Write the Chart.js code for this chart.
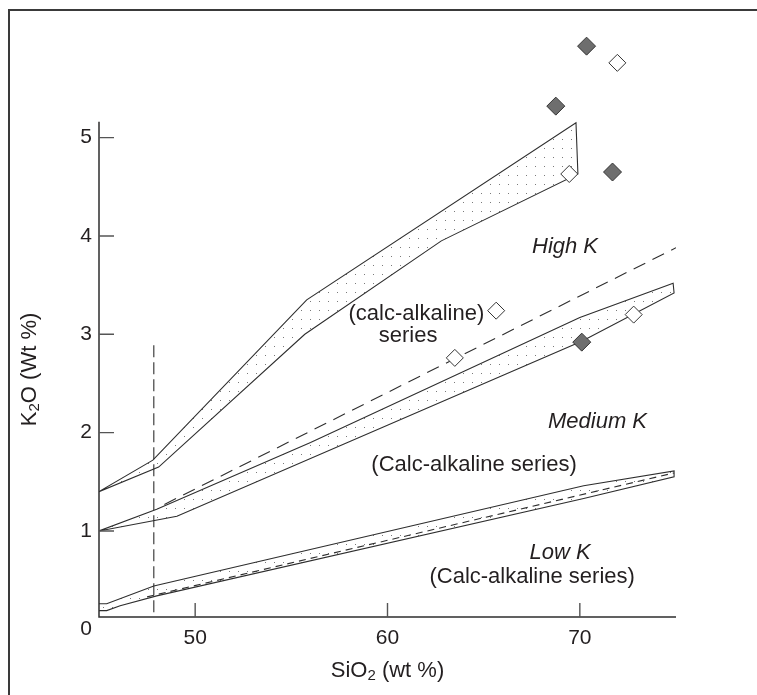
<!DOCTYPE html>
<html>
<head>
<meta charset="utf-8">
<style>
  html, body { margin: 0; padding: 0; background: #fff; }
  #wrap { position: relative; width: 757px; height: 695px; overflow: hidden; }
  #frame { position: absolute; left: 8px; top: 9px; width: 800px; height: 800px;
           border-top: 2px solid #3a3a3a; border-left: 2px solid #3a3a3a; }
  #chart { position: absolute; left: 0; top: 0; }
</style>
<script src="https://cdn.jsdelivr.net/npm/chart.js"></script>
</head>
<body>
<div id="wrap">
  <div id="frame"></div>
  <canvas id="chart" width="757" height="695"></canvas>
</div>
<script>
// Axis ticks
const xTicks = [50, 60, 70];
const yTicks = [0, 1, 2, 3, 4, 5];

// High K boundary band
const highUpperSiO2 = [45, 47.8, 55.8, 69.8];
const highUpperK2O  = [1.40, 1.72, 3.35, 5.15];
const highLowerSiO2 = [45, 48.1, 55.7, 62.8, 69.9];
const highLowerK2O  = [1.40, 1.65, 3.00, 3.95, 4.63];

// Medium K boundary band
const medUpperSiO2 = [45, 48, 56, 70, 74.85];
const medUpperK2O  = [1.0, 1.22, 1.90, 3.17, 3.52];
const medLowerSiO2 = [45, 49.05, 70.1, 74.9];
const medLowerK2O  = [1.0, 1.15, 2.93, 3.42];
const medDashSiO2  = [48.4, 75];
const medDashK2O   = [1.27, 3.88];

// Low K boundary band
const lowUpperSiO2 = [45, 45.4, 47.85, 70.2, 74.9];
const lowUpperK2O  = [0.26, 0.26, 0.44, 1.46, 1.61];
const lowLowerSiO2 = [45, 45.4, 46.1, 48, 70.2, 74.9];
const lowLowerK2O  = [0.19, 0.19, 0.24, 0.34, 1.33, 1.55];
const lowDashSiO2  = [47.5, 74.9];
const lowDashK2O   = [0.33, 1.59];

// vertical dashed line at 48 wt% SiO2
const basaltSiO2 = [47.85, 47.85];
const basaltK2O  = [0, 2.89];

// samples
const filledSiO2 = [70.35, 68.75, 71.7, 70.1];
const filledK2O  = [5.93, 5.32, 4.65, 2.92];
const openSiO2   = [71.95, 69.45, 65.65, 63.5, 72.8];
const openK2O    = [5.76, 4.63, 3.24, 2.76, 3.20];

// field labels
const noteText   = ['High K', '(calc-alkaline)', 'series', 'Medium K', '(Calc-alkaline series)', 'Low K', '(Calc-alkaline series)'];
const noteSiO2   = [69.23, 61.5, 61.07, 70.92, 64.5, 68.97, 67.52];
const noteK2O    = [3.89, 3.21, 2.98, 2.11, 1.67, 0.78, 0.53];
const noteItalic = [true, false, false, true, false, true, false];

const axisTopK2O = 5.16;

const FONT = "'Liberation Sans', Arial, Helvetica, sans-serif";
const INK = '#231f20';
const LINE = '#2e2e2e';

function pts(xs, ys) {
    return xs.map((x, i) => ({ x: x, y: ys[i] }));
}

function band(ux, uy, lx, ly) {
    return pts(ux, uy).concat(pts(lx, ly).reverse());
}

// dotted fill for the boundary bands
function dotPattern() {
    const c = document.createElement('canvas');
    c.width = 9;
    c.height = 9;
    const g = c.getContext('2d');
    g.fillStyle = '#7a7a7a';
    g.fillRect(4, 4, 1, 1);
    return g.createPattern(c, 'repeat');
}
const dots = dotPattern();

function bandSet(data) {
    return {
        data: data,
        borderColor: LINE,
        borderWidth: 1.1,
        backgroundColor: dots,
        fill: 'shape',
        pointRadius: 0,
        tension: 0,
        order: 3
    };
}

function dashSet(data, dash) {
    return {
        data: data,
        borderColor: LINE,
        borderWidth: 1.1,
        borderDash: dash,
        fill: false,
        pointRadius: 0,
        order: 2
    };
}

// draws subscripted text centred on (0,0)
function subText(ctx, parts) {
    const big = '22px ' + FONT;
    const small = '15px ' + FONT;
    let total = 0;
    parts.forEach(p => {
        ctx.font = p[1] ? small : big;
        total += ctx.measureText(p[0]).width;
    });
    let x = -total / 2;
    ctx.textAlign = 'left';
    ctx.textBaseline = 'middle';
    parts.forEach(p => {
        ctx.font = p[1] ? small : big;
        ctx.fillText(p[0], x, p[1] ? 5 : 0);
        x += ctx.measureText(p[0]).width;
    });
}

const decor = {
    id: 'decor',
    afterDraw(chart) {
        const ctx = chart.ctx;
        const xs = chart.scales.x;
        const ys = chart.scales.y;
        const a = chart.chartArea;
        const top = ys.getPixelForValue(axisTopK2O);
        ctx.save();

        // axis lines
        ctx.strokeStyle = LINE;
        ctx.lineWidth = 1.5;
        ctx.beginPath();
        ctx.moveTo(a.left, top);
        ctx.lineTo(a.left, a.bottom);
        ctx.lineTo(a.right, a.bottom);
        ctx.stroke();

        // inner tick marks
        ctx.strokeStyle = '#555';
        ctx.lineWidth = 1.4;
        ctx.beginPath();
        yTicks.filter(v => v > 0).forEach(v => {
            const p = ys.getPixelForValue(v);
            ctx.moveTo(a.left, p);
            ctx.lineTo(a.left + 15, p);
        });
        xTicks.forEach(v => {
            const p = xs.getPixelForValue(v);
            ctx.moveTo(p, a.bottom);
            ctx.lineTo(p, a.bottom - 14);
        });
        ctx.stroke();

        // field labels
        ctx.fillStyle = INK;
        ctx.textAlign = 'center';
        ctx.textBaseline = 'middle';
        noteText.forEach((t, i) => {
            ctx.font = (noteItalic[i] ? 'italic ' : '') + '22px ' + FONT;
            ctx.fillText(t, xs.getPixelForValue(noteSiO2[i]), ys.getPixelForValue(noteK2O[i]));
        });

        // axis titles
        ctx.save();
        ctx.translate((a.left + a.right) / 2, a.bottom + 54);
        subText(ctx, [['SiO', false], ['2', true], [' (wt %)', false]]);
        ctx.restore();

        ctx.save();
        ctx.translate(30, (a.bottom + top) / 2);
        ctx.rotate(-Math.PI / 2);
        subText(ctx, [['K', false], ['2', true], ['O (Wt %)', false]]);
        ctx.restore();

        ctx.restore();
    }
};

new Chart(document.getElementById('chart'), {
    type: 'line',
    data: {
        datasets: [
            {
                data: pts(filledSiO2, filledK2O),
                showLine: false,
                pointStyle: 'rectRot',
                pointRadius: 9,
                backgroundColor: '#6e6e6e',
                borderColor: '#333',
                borderWidth: 1,
                order: 0
            },
            {
                data: pts(openSiO2, openK2O),
                showLine: false,
                pointStyle: 'rectRot',
                pointRadius: 8.5,
                backgroundColor: '#fff',
                borderColor: '#333',
                borderWidth: 1,
                order: 0
            },
            dashSet(pts(medDashSiO2, medDashK2O), [13, 8]),
            dashSet(pts(lowDashSiO2, lowDashK2O), [7, 5]),
            dashSet(pts(basaltSiO2, basaltK2O), [12, 5]),
            bandSet(band(highUpperSiO2, highUpperK2O, highLowerSiO2, highLowerK2O)),
            bandSet(band(medUpperSiO2, medUpperK2O, medLowerSiO2, medLowerK2O)),
            bandSet(band(lowUpperSiO2, lowUpperK2O, lowLowerSiO2, lowLowerK2O))
        ]
    },
    options: {
        responsive: false,
        devicePixelRatio: 1,
        animation: false,
        layout: { padding: { left: 0, right: 81, top: 17.6, bottom: 0 } },
        plugins: {
            legend: { display: false },
            tooltip: { enabled: false }
        },
        scales: {
            x: {
                type: 'linear',
                min: 45,
                max: 75,
                afterBuildTicks: s => { s.ticks = xTicks.map(v => ({ value: v })); },
                afterFit: s => { s.height = 78; },
                grid: { display: false, drawTicks: false },
                border: { display: false },
                ticks: { color: INK, font: { family: FONT, size: 21 }, padding: 9, maxRotation: 0 }
            },
            y: {
                type: 'linear',
                min: 0.125,
                max: 6.2,
                afterBuildTicks: s => { s.ticks = yTicks.map(v => ({ value: v })); },
                afterFit: s => { s.width = 99; },
                grid: { display: false, drawTicks: false },
                border: { display: false },
                ticks: { color: INK, font: { family: FONT, size: 21 }, padding: 7 }
            }
        }
    },
    plugins: [decor]
});
</script>
</body>
</html>
